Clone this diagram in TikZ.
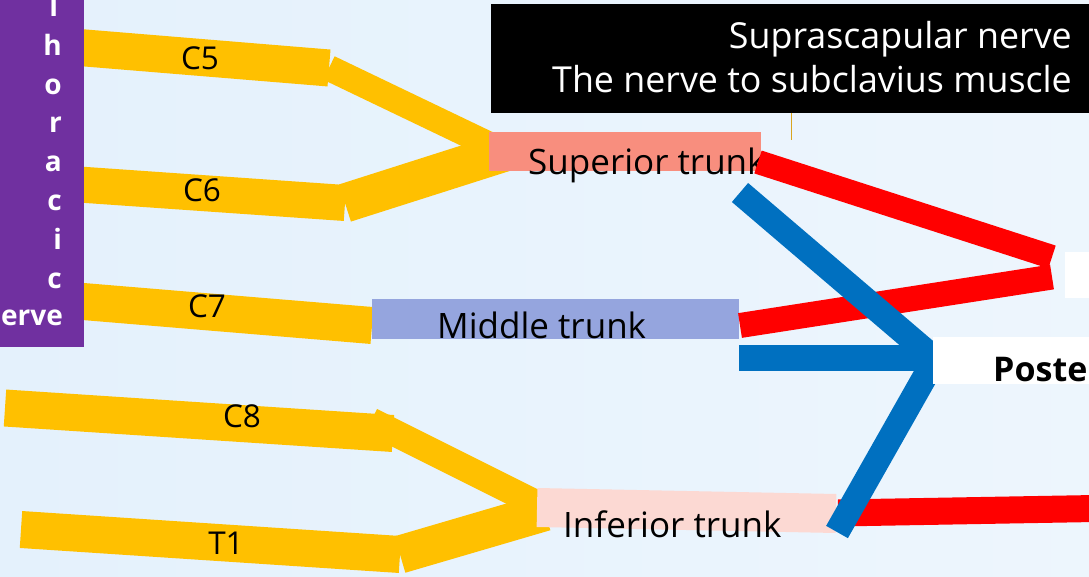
\documentclass[tikz,border=0pt]{standalone}
\usepackage{fontspec}
\setmainfont{Open Sans}
\definecolor{bgL}{RGB}{194,224,248}
\definecolor{bgM}{RGB}{228,241,252}
\definecolor{bgR}{RGB}{242,248,254}
\definecolor{rootyellow}{HTML}{FFC000}
\definecolor{purplebox}{HTML}{7030A0}
\definecolor{salmon}{HTML}{F88E7E}
\definecolor{lavender}{HTML}{95A5DE}
\definecolor{palepink}{HTML}{FCD9D3}
\definecolor{nred}{HTML}{FF0000}
\definecolor{nblue}{HTML}{0070C0}
\definecolor{tickgold}{HTML}{D9A520}
\pgfdeclarehorizontalshading{bgshade}{100bp}{color(0bp)=(bgL); color(25bp)=(bgM); color(100bp)=(bgR)}
\tikzset{
  yband/.style={draw=rootyellow, line width=#1, line cap=butt},
  redband/.style={draw=nred, line width=#1, line cap=butt},
  blueband/.style={draw=nblue, line width=#1, line cap=butt, line join=miter},
  tbox/.style={fill=#1, draw=none, inner sep=0pt, outer sep=0pt},
  rootlab/.style={font=\fontsize{31.5}{36}\selectfont, inner sep=0pt, text=black},
  trunklab/.style={font=\fontsize{35}{42}\selectfont, inner sep=0pt, text=black},
  boxlab/.style={font=\fontsize{35.8}{42}\selectfont, inner sep=0pt, text=white},
  vlet/.style={font=\fontsize{28}{34}\selectfont\bfseries, inner sep=0pt, text=white, anchor=base east},
}
\begin{document}
\begin{tikzpicture}[x=1pt,y=-1pt]
\useasboundingbox (0,0) rectangle (1089,577);
\clip (0,0) rectangle (1089,577);
\shade[shading=bgshade] (0,0) rectangle (1089,577);

% root coordinates
\coordinate (c5L) at (0,41);   \coordinate (c5R) at (329,68);  \coordinate (c5E) at (500,150);
\coordinate (c6L) at (0,179);  \coordinate (c6R) at (345,203); \coordinate (c6E) at (505,152);
\coordinate (c7L) at (0,294.6);\coordinate (c7R) at (372,325.5);
\coordinate (c8L) at (5,408);  \coordinate (c8R) at (393,433.5);
\coordinate (c8S) at (371,421);\coordinate (c8E) at (545,508);
\coordinate (t1L) at (21,529.5);\coordinate (t1R) at (400,554.5);\coordinate (t1E) at (545,512);

% yellow roots
\draw[yband=26] (c5R) -- (c5E);
\draw[yband=39] (c6R) -- (c6E);
\draw[yband=37] (c5L) -- (c5R);
\draw[yband=36] (c6L) -- (c6R);
\draw[yband=37] (c7L) -- (c7R);
\draw[yband=27] (c8S) -- (c8E);
\draw[yband=38] (t1R) -- (t1E);
\draw[yband=37] (c8L) -- (c8R);
\draw[yband=37] (t1L) -- (t1R);

\node[rootlab] (lc5) at (200,58.5) {C5};
\node[rootlab] (lc6) at (202,190) {C6};
\node[rootlab] (lc7) at (207,306.5) {C7};
\node[rootlab] (lc8) at (242,416) {C8};
\node[rootlab] (lt1) at (226,543.5) {T1};

% purple box with vertical text
\node[tbox=purplebox, minimum width=84, minimum height=347, anchor=north west] (pbox) at (0,0) {};
\foreach \ch [count=\k] in {T,h,o,r,a,c,i,c}
  \node[vlet] (pl\k) at (62,{16.5+38.8*(\k-1)}) {\ch};
\node[vlet] (plerve) at (63,325.5) {erve};

% trunk boxes
\node[tbox=salmon, minimum width=272, minimum height=39] (sup) at (625,151.5) {};
\node[tbox=lavender, minimum width=367, minimum height=40] (mid) at (555.5,319) {};
\node[tbox=palepink, minimum width=299, minimum height=39, rotate=-1.15] (inf) at (686.5,510.5) {};
\node[trunklab, anchor=base west] (supT) at (528,175) {Superior trunk};
\node[trunklab, anchor=base west] (midT) at (437,338.5) {Middle trunk};
\node[trunklab, anchor=base west] (infT) at (563,537) {Inferior trunk};

% red divisions
\coordinate (r1a) at (758,162);  \coordinate (r1b) at (1052,257);
\coordinate (r2a) at (740,325.5);\coordinate (r2b) at (1052,277);
\coordinate (r3a) at (838,513);  \coordinate (r3b) at (1095,508.5);
\draw[redband=24] (r1a) -- (r1b);
\draw[redband=25] (r2a) -- (r2b);
\draw[redband=27] (r3a) -- (r3b);

% blue divisions
\coordinate (b1) at (740,192.5); \coordinate (bV) at (935,359); \coordinate (b2) at (837,532);
\coordinate (b3) at (739,358);   \coordinate (b4) at (945,358);
\draw[blueband=25] (b1) -- (bV) -- (b2);
\draw[blueband=26] (b3) -- (b4);

% white cord boxes
\node[tbox=white, minimum width=160, minimum height=47, anchor=north west] (post) at (933,337) {};
\node[font=\fontsize{34}{40}\selectfont\bfseries, inner sep=0pt, anchor=base west] (postT) at (993,381) {Poste};
\node[tbox=white, minimum width=30, minimum height=46, anchor=north west] (lat) at (1065,252) {};

% black box
\node[tbox=black, minimum width=600, minimum height=109, anchor=north west] (bb) at (491,4) {};
\node[boxlab, anchor=base east] (bt1) at (1072,48.5) {Suprascapular nerve};
\node[boxlab, anchor=base east] (bt2) at (1072,93) {The nerve to subclavius muscle};
\coordinate (tkA) at (791,113); \coordinate (tkB) at (791,140);
\draw[draw=tickgold, line width=1] (tkA) -- (tkB);
\end{tikzpicture}
\end{document}
